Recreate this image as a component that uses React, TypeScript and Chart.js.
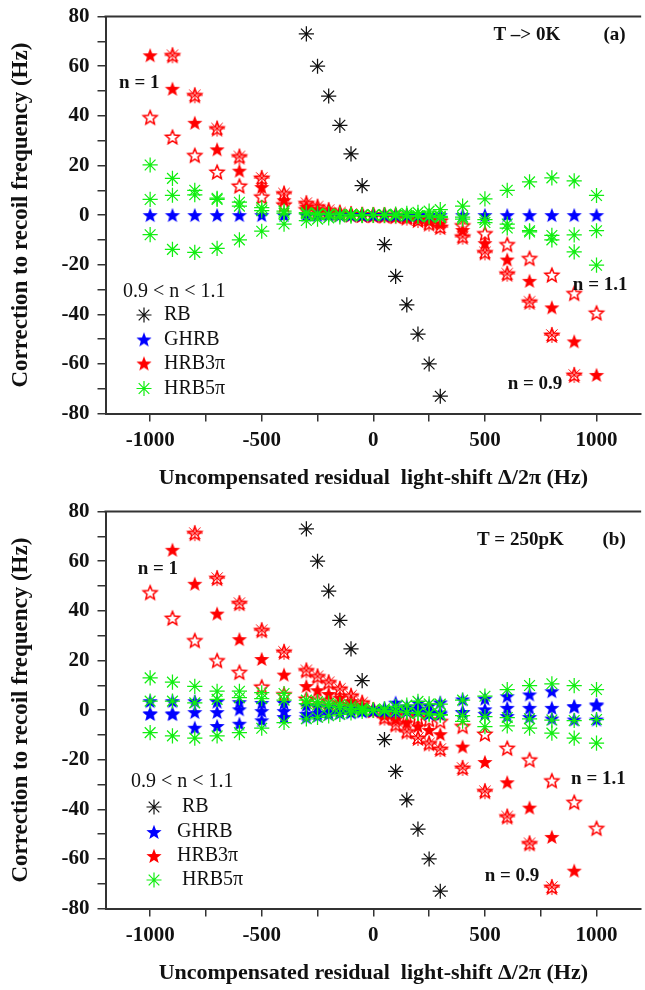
import React, { useEffect, useRef } from 'react';
import { Chart, registerables } from 'chart.js';

Chart.register(...registerables);

// Light-shift values (Hz) shared by the HRB / GHRB series
const XS = [-1000, -900, -800, -700, -600, -500, -400, -300, -250, -200, -150, -100, -50, 0, 50, 100, 150, 200, 250, 300, 400, 500, 600, 700, 800, 900, 1000];

// Ramsey-Bordé (RB)
const RB_X = [-300, -250, -200, -150, -100, -50, 50, 100, 150, 200, 250, 300];
const RB_Y = [73, 60, 48, 36.2, 24.7, 11.9, -11.9, -24.7, -36.2, -48, -60, -73];

// ---- (a) T -> 0K ----
const GHRB_A = [0, 0, 0, 0, 0, 0, 0, 0, 0, 0, 0, 0, 0, 0, 0, 0, 0, 0, 0, 0, 0, 0, 0, 0, 0, 0, 0];
const HRB3_N1_A = [64.4, 50.9, 37.2, 26.5, 17.9, 11.3, 6.0, 3.4, 2.3, 1.4, 0.7, 0.3, 0.1, 0, -0.1, -0.3, -0.7, -1.4, -2.3, -3.4, -6.0, -11.3, -17.9, -26.5, -37.2, -50.9, -64.4];
const HRB3_N09_A = [null, 64.4, 48.3, 34.9, 23.6, 15.0, 8.7, 4.8, 3.4, 2.0, 1.0, 0.4, 0.1, 0, -0.1, -0.4, -1.0, -2.0, -3.4, -4.8, -8.7, -15.0, -23.6, -34.9, -48.3, -64.4, null];
const HRB3_N11_A = [39.4, 31.5, 24.1, 17.4, 11.8, 7.4, 4.2, 2.3, 1.6, 1.0, 0.5, 0.2, 0.1, 0, -0.1, -0.2, -0.5, -1.0, -1.6, -2.3, -4.2, -7.4, -11.8, -17.4, -24.1, -31.5, -39.4];
const HRB5_A1 = [20.2, 14.8, 10.0, 6.8, 5.2, 3.0, 1.6, 1.0, 0.7, 0.5, 0.3, 0.2, 0.1, 0, -0.1, -0.2, -0.3, -0.5, -0.7, -1.0, -1.6, -3.0, -5.2, -6.8, -10.0, -14.8, -20.2];
const HRB5_A2 = [6.3, 8.0, 8.2, 6.3, 3.6, 1.8, 0.8, 0.5, 0.3, 0.2, 0.1, 0.1, 0, 0, 0, -0.1, -0.1, -0.2, -0.3, -0.5, -0.8, -1.8, -3.6, -6.3, -8.2, -8.0, -6.3];
const HRB5_A3 = [-7.9, -13.8, -15.0, -13.4, -10.0, -6.5, -3.6, -2.2, -1.6, -1.1, -0.7, -0.4, -0.2, 0, 0.2, 0.4, 0.7, 1.1, 1.6, 2.2, 3.6, 6.5, 10.0, 13.4, 15.0, 13.8, 7.9];

// ---- (b) T = 250pK ----
const GHRB_B1 = [3.6, 3.6, 3.6, 3.4, 3.2, 2.9, 2.9, 2.0, 1.6, 1.2, 0.8, 0.5, 0.2, 0, 0.8, 3.0, 1.5, 3.0, 1.8, 3.1, 4.3, 4.6, 5.6, 6.3, 7.6, 1.6, 2.3];
const GHRB_B2 = [-1.3, -1.3, -0.8, -0.8, 0.3, -0.4, -0.4, -1.5, -1.2, -1.0, -0.8, -0.6, -0.3, 0, -0.3, -0.5, -0.3, -0.5, -0.8, -1.0, -0.8, 0.3, 0.9, 0.9, 0.9, 1.4, 1.9];
const GHRB_B3 = [-1.5, -1.6, -7.1, -6.4, -5.5, -4.1, -2.8, -2.9, -2.3, -1.6, -1.2, -0.9, -0.5, 0, 0.3, 0.5, -0.3, 0.5, -1.5, -1.6, -0.8, -1.5, -2.4, -2.8, -3.4, -3.8, -3.8];
const HRB3_N1_B = [null, 64.6, 50.9, 38.9, 28.6, 20.6, 14.3, 9.7, 8.0, 6.5, 5.0, 3.6, 2.0, 0, -2.0, -3.6, -5.0, -6.5, -8.0, -9.7, -14.7, -20.9, -29.1, -39.3, -51.1, -64.7, null];
const HRB3_N09_B = [null, null, 71.3, 53.2, 43.1, 32.2, 23.5, 16.0, 13.6, 11.2, 8.6, 5.8, 3.0, 0, -3.0, -5.8, -8.6, -11.2, -13.4, -15.7, -23.3, -32.7, -42.9, -53.7, -71.3, null, null];
const HRB3_N11_B = [47.4, 37.1, 28.1, 20.0, 15.3, 9.4, 6.3, 4.5, 3.8, 3.0, 2.2, 1.5, 0.7, 0, -0.7, -1.5, -2.2, -3.0, -3.8, -4.5, -6.5, -9.6, -15.3, -20.0, -28.4, -37.1, -47.6];
const HRB5_B1 = [13.0, 11.3, 9.6, 7.6, 7.6, 7.0, 6.7, 4.0, 3.4, 2.8, 2.2, 1.6, 0.8, 0, 0.5, 1.5, 2.0, 3.5, 2.5, 2.4, 4.0, 5.6, 8.3, 9.9, 10.6, 9.9, 8.3];
const HRB5_B2 = [3.6, 3.6, 2.9, 4.3, 5.0, 4.6, 4.0, 2.6, 2.0, 1.5, 1.0, 0.5, 0.2, 0, -0.3, -0.6, -0.9, -1.2, -1.5, -1.8, -2.2, -2.6, -3.0, -3.5, -4.0, -4.2, -3.8];
const HRB5_B3 = [-9.1, -10.4, -11.3, -10.4, -9.1, -7.3, -5.0, -3.5, -2.9, -2.3, -1.7, -1.1, -0.5, 0, -0.3, -0.6, -1.0, -1.3, -1.6, -2.0, -4.5, -6.7, -6.4, -7.3, -9.3, -11.3, -13.3];

// Axis ticks
const X_TICKS = [-1000, -750, -500, -250, 0, 250, 500, 750, 1000];
const X_LABELED = [-1000, -500, 0, 500, 1000];
const Y_TICKS = [-80, -70, -60, -50, -40, -30, -20, -10, 0, 10, 20, 30, 40, 50, 60, 70, 80];
const Y_LABELED = [-80, -60, -40, -20, 0, 20, 40, 60, 80];

const X_TITLE = 'Uncompensated residual  light-shift Δ/2π (Hz)';
const Y_TITLE = 'Correction to recoil frequency (Hz)';
const LEGEND_TITLE = '0.9 < n < 1.1';

const RED = '#ff0000';
const BLUE = '#0000ff';
const GREEN = '#11ee11';
const BLACK = '#111111';
const AXIS = '#333333';
const FONT = '"Liberation Serif", "Times New Roman", serif';

type Marks = {
  filledRed: HTMLCanvasElement;
  filledBlue: HTMLCanvasElement;
  hollowRed: HTMLCanvasElement;
  crossRed: HTMLCanvasElement;
};

function starPath(g: CanvasRenderingContext2D, cx: number, cy: number, R: number, r: number) {
  g.beginPath();
  for (let i = 0; i < 10; i++) {
    const rad = i % 2 === 0 ? R : r;
    const a = -Math.PI / 2 + (i * Math.PI) / 5;
    const px = cx + rad * Math.cos(a);
    const py = cy + rad * Math.sin(a);
    if (i === 0) g.moveTo(px, py);
    else g.lineTo(px, py);
  }
  g.closePath();
}

function asteriskPath(g: CanvasRenderingContext2D, cx: number, cy: number, R: number) {
  g.beginPath();
  for (let i = 0; i < 4; i++) {
    const a = (i * Math.PI) / 4;
    g.moveTo(cx - R * Math.cos(a), cy - R * Math.sin(a));
    g.lineTo(cx + R * Math.cos(a), cy + R * Math.sin(a));
  }
}

function makeMark(kind: 'filled' | 'hollow' | 'cross', color: string, R: number): HTMLCanvasElement {
  const size = 2 * Math.ceil(R + 2);
  const c = document.createElement('canvas');
  c.width = size;
  c.height = size;
  const g = c.getContext('2d')!;
  const m = size / 2;
  const cy = m + R * 0.08;
  if (kind === 'filled') {
    starPath(g, m, cy, R, R * 0.42);
    g.fillStyle = color;
    g.fill();
  } else {
    starPath(g, m, cy, R - 0.7, (R - 0.7) * 0.45);
    g.strokeStyle = color;
    g.lineWidth = 1.5;
    g.stroke();
    if (kind === 'cross') {
      asteriskPath(g, m, m, R);
      g.lineWidth = 1;
      g.stroke();
    }
  }
  return c;
}

function pts(xs: number[], ys: (number | null)[]) {
  return xs.map((x, i) => ({ x, y: ys[i] }));
}

type Note = { text: string; x: number; y: number };
type LegendLayout = { titleX: number; titleY: number; markX: number; textX: number; rows: number[]; labels: string[] };

function overlay(notes: Note[], legend: LegendLayout, marks: Marks) {
  return {
    id: 'overlay',
    afterDraw(chart: any) {
      const { ctx, chartArea: ca } = chart;
      const xs = chart.scales.x;
      const ys = chart.scales.y;
      ctx.save();

      // frame: top edge
      ctx.strokeStyle = AXIS;
      ctx.lineWidth = 2;
      ctx.beginPath();
      ctx.moveTo(ca.left - 1, ca.top);
      ctx.lineTo(ca.right, ca.top);
      ctx.stroke();

      // axis titles
      ctx.fillStyle = BLACK;
      ctx.textAlign = 'center';
      ctx.textBaseline = 'middle';
      ctx.font = `bold 22px ${FONT}`;
      ctx.fillText(X_TITLE, xs.getPixelForValue(0), ca.bottom + 65);
      ctx.save();
      ctx.translate(21.5, ys.getPixelForValue(0));
      ctx.rotate(-Math.PI / 2);
      ctx.font = `bold 23px ${FONT}`;
      ctx.fillText(Y_TITLE, 0, 0);
      ctx.restore();

      // annotations inside the plot
      ctx.textAlign = 'left';
      ctx.font = `bold 19px ${FONT}`;
      for (const n of notes) {
        ctx.fillText(n.text, xs.getPixelForValue(n.x), ys.getPixelForValue(n.y));
      }

      // legend
      ctx.font = `20px ${FONT}`;
      ctx.fillText(LEGEND_TITLE, legend.titleX, legend.titleY);
      const draw = [
        (x: number, y: number) => {
          ctx.strokeStyle = BLACK;
          ctx.lineWidth = 1.2;
          asteriskPath(ctx, x, y, 7.5);
          ctx.stroke();
        },
        (x: number, y: number) => ctx.drawImage(marks.filledBlue, x - marks.filledBlue.width / 2, y - marks.filledBlue.height / 2),
        (x: number, y: number) => ctx.drawImage(marks.filledRed, x - marks.filledRed.width / 2, y - marks.filledRed.height / 2),
        (x: number, y: number) => {
          ctx.strokeStyle = GREEN;
          ctx.lineWidth = 1.2;
          asteriskPath(ctx, x, y, 7.5);
          ctx.stroke();
        },
      ];
      legend.rows.forEach((ry, i) => {
        draw[i](legend.markX, ry);
        ctx.fillStyle = BLACK;
        ctx.fillText(legend.labels[i], legend.textX, ry);
      });
      ctx.restore();
    },
  };
}

function buildChart(canvas: HTMLCanvasElement, panel: 'a' | 'b', marks: Marks) {
  const asterisk = (label: string, data: any[], color: string, order: number) => ({
    label,
    data,
    pointStyle: 'star',
    pointRadius: 7.6,
    pointBorderWidth: 1.25,
    borderColor: color,
    backgroundColor: 'rgba(0,0,0,0)',
    order,
  });
  const image = (label: string, data: any[], img: HTMLCanvasElement, order: number) => ({
    label,
    data,
    pointStyle: img,
    pointRadius: 7,
    order,
  });

  const datasets =
    panel === 'a'
      ? [
          asterisk('RB', pts(RB_X, RB_Y), BLACK, 5),
          image('HRB3π n=0.9', pts(XS, HRB3_N09_A), marks.crossRed, 4),
          image('HRB3π n=1.1', pts(XS, HRB3_N11_A), marks.hollowRed, 4),
          image('HRB3π', pts(XS, HRB3_N1_A), marks.filledRed, 3),
          image('GHRB', pts(XS, GHRB_A), marks.filledBlue, 2),
          asterisk('HRB5π 1', pts(XS, HRB5_A1), GREEN, 1),
          asterisk('HRB5π 2', pts(XS, HRB5_A2), GREEN, 1),
          asterisk('HRB5π 3', pts(XS, HRB5_A3), GREEN, 1),
        ]
      : [
          asterisk('RB', pts(RB_X, RB_Y), BLACK, 5),
          image('HRB3π n=0.9', pts(XS, HRB3_N09_B), marks.crossRed, 4),
          image('HRB3π n=1.1', pts(XS, HRB3_N11_B), marks.hollowRed, 4),
          image('HRB3π', pts(XS, HRB3_N1_B), marks.filledRed, 3),
          image('GHRB 1', pts(XS, GHRB_B1), marks.filledBlue, 2),
          image('GHRB 2', pts(XS, GHRB_B2), marks.filledBlue, 2),
          image('GHRB 3', pts(XS, GHRB_B3), marks.filledBlue, 2),
          asterisk('HRB5π 1', pts(XS, HRB5_B1), GREEN, 1),
          asterisk('HRB5π 2', pts(XS, HRB5_B2), GREEN, 1),
          asterisk('HRB5π 3', pts(XS, HRB5_B3), GREEN, 1),
        ];

  const notes: Note[] =
    panel === 'a'
      ? [
          { text: 'T –> 0K', x: 538, y: 72.6 },
          { text: '(a)', x: 1031, y: 72.6 },
          { text: 'n = 1', x: -1139, y: 53.1 },
          { text: 'n = 1.1', x: 894, y: -28.2 },
          { text: 'n = 0.9', x: 602, y: -68.1 },
        ]
      : [
          { text: 'T = 250pK', x: 464, y: 68.6 },
          { text: '(b)', x: 1027, y: 68.6 },
          { text: 'n = 1', x: -1056, y: 56.8 },
          { text: 'n = 1.1', x: 886, y: -27.9 },
          { text: 'n = 0.9', x: 499, y: -66.7 },
        ];

  const legend: LegendLayout =
    panel === 'a'
      ? { titleX: 123, titleY: 292, markX: 144, textX: 164, rows: [315, 339.5, 363.5, 388.5], labels: ['RB', 'GHRB', 'HRB3π', 'HRB5π'] }
      : { titleX: 131, titleY: 287, markX: 154, textX: 177, rows: [312, 337, 361, 385], labels: [' RB', 'GHRB', 'HRB3π', ' HRB5π'] };

  return new Chart(canvas, {
    type: 'scatter',
    data: { datasets: datasets as any },
    options: {
      responsive: false,
      animation: false,
      devicePixelRatio: 1,
      layout: { padding: { top: 16.6, right: 3, left: 0, bottom: 0 } },
      plugins: { legend: { display: false }, tooltip: { enabled: false } },
      scales: {
        x: {
          type: 'linear',
          min: -1200,
          max: 1200,
          afterFit: (s: any) => {
            s.height = 81.4;
            s.paddingLeft = 0;
            s.paddingRight = 0;
          },
          afterBuildTicks: (s: any) => {
            s.ticks = X_TICKS.map((v) => ({ value: v }));
          },
          grid: { drawOnChartArea: false, drawTicks: true, tickLength: 8, color: AXIS, lineWidth: 1.5 },
          border: { display: true, color: AXIS, width: 2 },
          ticks: {
            autoSkip: false,
            maxRotation: 0,
            padding: 6,
            color: BLACK,
            font: { family: FONT, size: 21, weight: 'bold' },
            callback: (v: any) => (X_LABELED.includes(Number(v)) ? String(v) : ''),
          },
        },
        y: {
          type: 'linear',
          min: -80,
          max: 80,
          afterFit: (s: any) => {
            s.width = 105.5;
            s.paddingTop = 0;
            s.paddingBottom = 0;
          },
          afterBuildTicks: (s: any) => {
            s.ticks = Y_TICKS.map((v) => ({ value: v }));
          },
          grid: { drawOnChartArea: false, drawTicks: true, tickLength: 8, color: AXIS, lineWidth: 1.5 },
          border: { display: true, color: AXIS, width: 2 },
          ticks: {
            autoSkip: false,
            padding: 8,
            color: BLACK,
            font: { family: FONT, size: 21, weight: 'bold' },
            callback: (v: any) => (Y_LABELED.includes(Number(v)) ? String(v) : ''),
          },
        },
      },
    },
    plugins: [overlay(notes, legend, marks)],
  });
}

function Panel({ panel }: { panel: 'a' | 'b' }) {
  const ref = useRef<HTMLCanvasElement>(null);
  useEffect(() => {
    if (!ref.current) return;
    const marks: Marks = {
      filledRed: makeMark('filled', RED, 8),
      filledBlue: makeMark('filled', BLUE, 8),
      hollowRed: makeMark('hollow', RED, 8),
      crossRed: makeMark('cross', RED, 8),
    };
    const chart = buildChart(ref.current, panel, marks);
    return () => chart.destroy();
  }, [panel]);
  return <canvas ref={ref} width={650} height={495} style={{ display: 'block', width: 650, height: 495 }} />;
}

export default function App() {
  return (
    <div style={{ position: 'absolute', left: 0, top: 0, width: 645, height: 990, overflow: 'hidden', background: '#ffffff' }}>
      <Panel panel="a" />
      <Panel panel="b" />
    </div>
  );
}
